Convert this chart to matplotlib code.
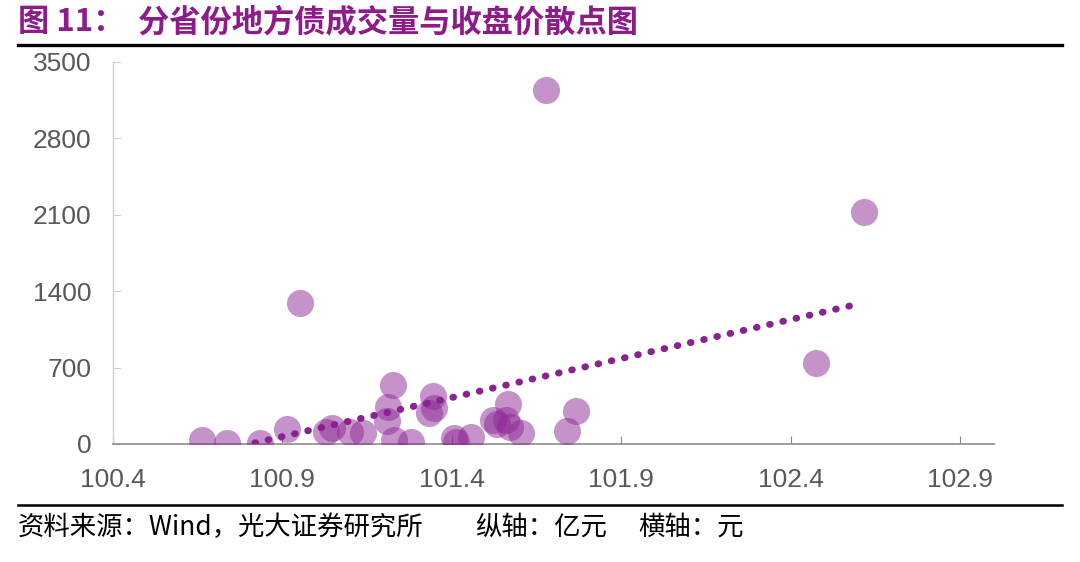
import matplotlib
matplotlib.use("Agg")
import matplotlib.pyplot as plt
from matplotlib.lines import Line2D

# closing price (yuan) vs traded volume (100m yuan)
price = [100.663, 100.737, 100.834, 100.916, 100.954, 101.031, 101.046, 101.101,
         101.140, 101.210, 101.213, 101.228, 101.231, 101.281, 101.334, 101.349,
         101.346, 101.407, 101.413, 101.457, 101.522, 101.534, 101.560, 101.566,
         101.572, 101.604, 101.678, 101.740, 101.766, 102.475, 102.616]
volume = [37, 5, 5, 137, 1290, 110, 147, 110,
          100, 210, 339, 540, 37, 18, 284, 330,
          440, 55, 18, 64, 220, 183, 220, 366,
          156, 100, 3243, 119, 302, 742, 2125]

# linear trend line end points as drawn
trend_x = [100.82, 102.61]
trend_y = [10, 1290]

x_ticks = [100.4, 100.9, 101.4, 101.9, 102.4, 102.9]
y_ticks = [0, 700, 1400, 2100, 2800, 3500]

title_num = "图 11："
title = "分省份地方债成交量与收盘价散点图"
footer_parts = ["资料来源：Wind，光大证券研究所", "纵轴：亿元", "横轴：元"]
footer_x = [18, 475, 638]   # pixel positions of the footer pieces

plt.rcParams['font.family'] = ['Liberation Sans', 'Noto Sans CJK SC', 'DejaVu Sans']
cjk = ['Noto Sans CJK SC', 'DejaVu Sans']

W, H = 1080, 562
fig = plt.figure(figsize=(W / 100, H / 100), dpi=100)
ax = fig.add_axes([0.1042, 0.21, 0.8162, 0.6797])

ax.scatter(price, volume, s=380, color='#8C2896', alpha=0.5, linewidths=0, zorder=3)
ax.plot(trend_x, trend_y, color='#8B2291', linewidth=5,
        linestyle=(0, (0.1, 1.85)), dash_capstyle='round', zorder=4)

ax.set_xlim(100.4, 103.0)
ax.set_ylim(0, 3500)
ax.set_xticks(x_ticks)
ax.set_xticklabels([f"{v:.1f}" for v in x_ticks])
ax.set_yticks(y_ticks)
ax.set_yticklabels([str(v) for v in y_ticks])

for side in ['top', 'right']:
    ax.spines[side].set_visible(False)
ax.spines['left'].set_color('#D0D0D0')
ax.spines['bottom'].set_color('#8C8C8C')
ax.spines['left'].set_linewidth(1.0)
ax.spines['bottom'].set_linewidth(1.2)
ax.tick_params(axis='x', direction='in', length=6, color='#8C8C8C', pad=17,
               labelsize=19, labelcolor='#595959')
ax.tick_params(axis='y', direction='in', length=6, color='#D0D0D0', pad=15,
               labelsize=19, labelcolor='#595959')

# title and rules
fig.text(18 / W, 1 - 22 / H, title_num, fontsize=22.5, color='#8E1A8C', fontweight='bold',
         family=cjk, va='center', ha='left')
fig.text(138 / W, 1 - 22 / H, title, fontsize=22.5, color='#8E1A8C', fontweight='bold',
         family=cjk, va='center', ha='left')
fig.add_artist(Line2D([18 / W, 1062 / W], [1 - 45 / H, 1 - 45 / H], color='black',
                      linewidth=2.4, transform=fig.transFigure))
fig.add_artist(Line2D([18 / W, 1062 / W], [1 - 505 / H, 1 - 505 / H], color='black',
                      linewidth=1.8, transform=fig.transFigure))
for txt, px in zip(footer_parts, footer_x):
    fig.text(px / W, 1 - 527 / H, txt, fontsize=19, color='black',
             family=cjk, va='center', ha='left')

fig.savefig("out.png", dpi=100)
